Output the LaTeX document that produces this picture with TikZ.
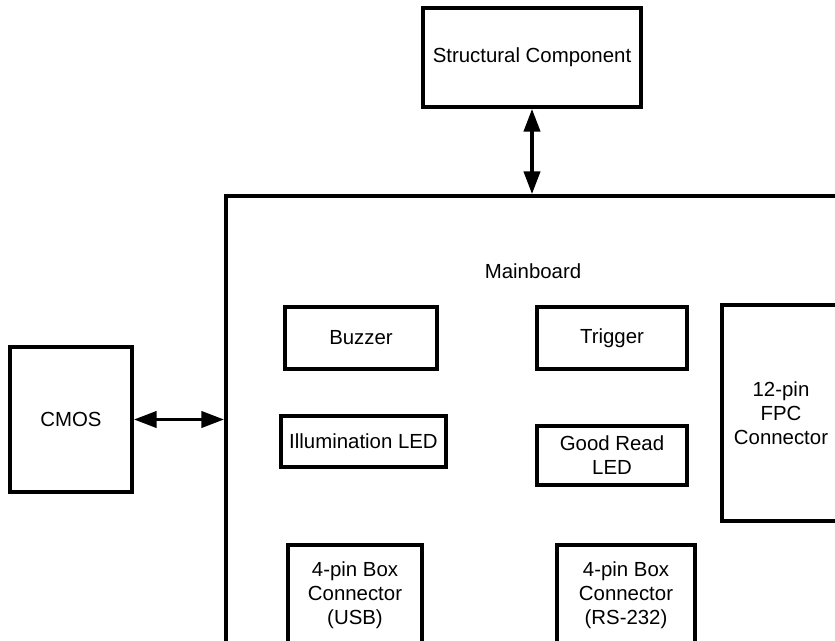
\documentclass[tikz,border=0pt]{standalone}
\usepackage{fontspec}
\setmainfont{Liberation Sans}
\usetikzlibrary{arrows.meta}

\begin{document}
\begin{tikzpicture}[x=0.75pt, y=-0.75pt,
  box/.style={draw, line width=2.8pt, align=center, inner sep=0pt,
    font=\fontsize{15.3}{18}\selectfont},
  biarrow/.style={{Triangle[length=17pt,width=12pt]}-{Triangle[length=17pt,width=12pt]}, line width=2.8pt}]
  \clip (0,0) rectangle (835,641);
  % outside parts
  \node[box, minimum width=163.5pt, minimum height=74.25pt] (struct) at (532,57.5) {Structural Component};
  \node[box, minimum width=91.5pt, minimum height=108.75pt] (cmos) at (71,419.5) {CMOS};
  % mainboard and its parts
  \node[box, minimum width=490.5pt, minimum height=378pt] (main) at (553,448) {};
  \node[font=\fontsize{15.3}{18}\selectfont] (mainlbl) at (533,271) {Mainboard};
  \node[box, minimum width=114pt, minimum height=46.5pt] (buzzer) at (361,338) {Buzzer};
  \node[box, minimum width=112.5pt, minimum height=46.5pt] (trigger) at (612,338) {Trigger};
  \node[box, minimum width=88.5pt, minimum height=162pt] (fpc) at (781,413) {12-pin\\FPC\\Connector};
  \node[box, minimum width=123.75pt, minimum height=38.25pt] (illum) at (363.5,441.5) {Illumination LED};
  \node[box, minimum width=112.5pt, minimum height=44.25pt] (goodread) at (612,455.5) {Good Read\\LED};
  \node[box, minimum width=100.5pt, minimum height=75pt] (usb) at (355,595) {4-pin Box\\Connector\\(USB)};
  \node[box, minimum width=103.5pt, minimum height=75pt] (rs) at (626,595) {4-pin Box\\Connector\\(RS-232)};
  % links
  \draw[biarrow] (struct.south) -- (struct.south |- main.north);
  \draw[biarrow] (cmos.east) -- (cmos.east -| main.west);
\end{tikzpicture}
\end{document}
